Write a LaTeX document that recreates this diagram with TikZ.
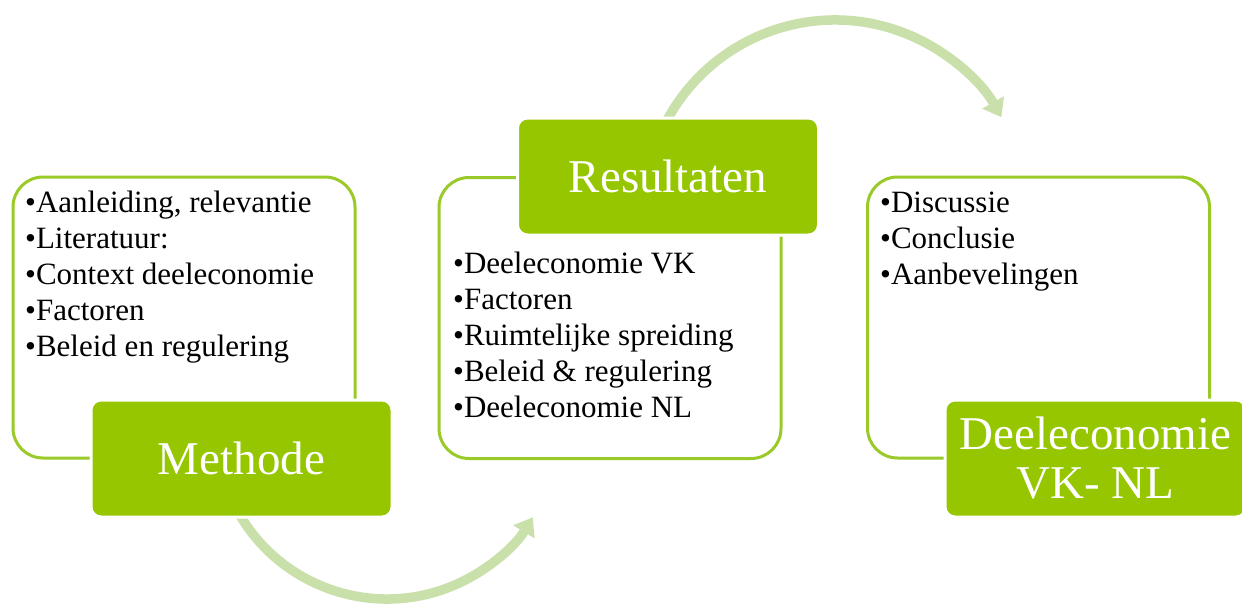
\documentclass[tikz,border=0pt]{standalone}
\usepackage{fontspec}
\setmainfont{Liberation Serif}
\usetikzlibrary{arrows.meta}
\definecolor{boxgreen}{RGB}{149,198,0}
\definecolor{linegreen}{RGB}{154,202,40}
\definecolor{arrowgreen}{RGB}{201,224,170}
\begin{document}
\begin{tikzpicture}[x=1pt,y=1pt,
 obox/.style={draw=linegreen, line width=3pt, rounded corners=30pt, inner sep=0pt, minimum width=342pt, minimum height=281pt},
 hbox/.style={fill=boxgreen, draw=white, line width=3pt, rounded corners=10pt, text=white, font=\fontsize{47}{49}\selectfont, align=center, inner sep=0pt, minimum height=117pt, minimum width=301pt},
 list/.style={anchor=base west, align=left, inner sep=0pt, font=\fontsize{31}{36}\selectfont},
 cyc/.style={draw=arrowgreen, line width=9.5pt, -{Triangle[width=24pt,length=17pt]}}
]
\useasboundingbox (0,0) rectangle (1242,-605);
\clip (0,0) rectangle (1242,-605);
\coordinate (c1) at (387,-428);
\coordinate (c2) at (835,-211);
\draw[cyc] ([shift={(205:171)}]c1) arc[start angle=205, end angle=328.5, radius=171];
\draw[cyc] ([shift={(155:191)}]c2) arc[start angle=155, end angle=29.4, radius=191];
\node[obox] (o1) at (184,-317.5) {};
\node[obox] (o2) at (610,-318) {};
\node[obox] (o3) at (1038.5,-317.5) {};
\node[hbox] (h1) at (241.5,-458.5) {Methode};
\node[hbox] (h2) at (668,-176.5) {Resultaten};
\node[hbox] (h3) at (1095.5,-458.5) {Deeleconomie\\VK- NL};
\node[list] (l1) at (25,-356) {•Aanleiding, relevantie\\•Literatuur:\\•Context deeleconomie\\•Factoren\\•Beleid en regulering};
\node[list] (l2) at (453,-417) {•Deeleconomie VK\\•Factoren\\•Ruimtelijke spreiding\\•Beleid \& regulering\\•Deeleconomie NL};
\node[list] (l3) at (880,-284) {•Discussie\\•Conclusie\\•Aanbevelingen};
\end{tikzpicture}
\end{document}
